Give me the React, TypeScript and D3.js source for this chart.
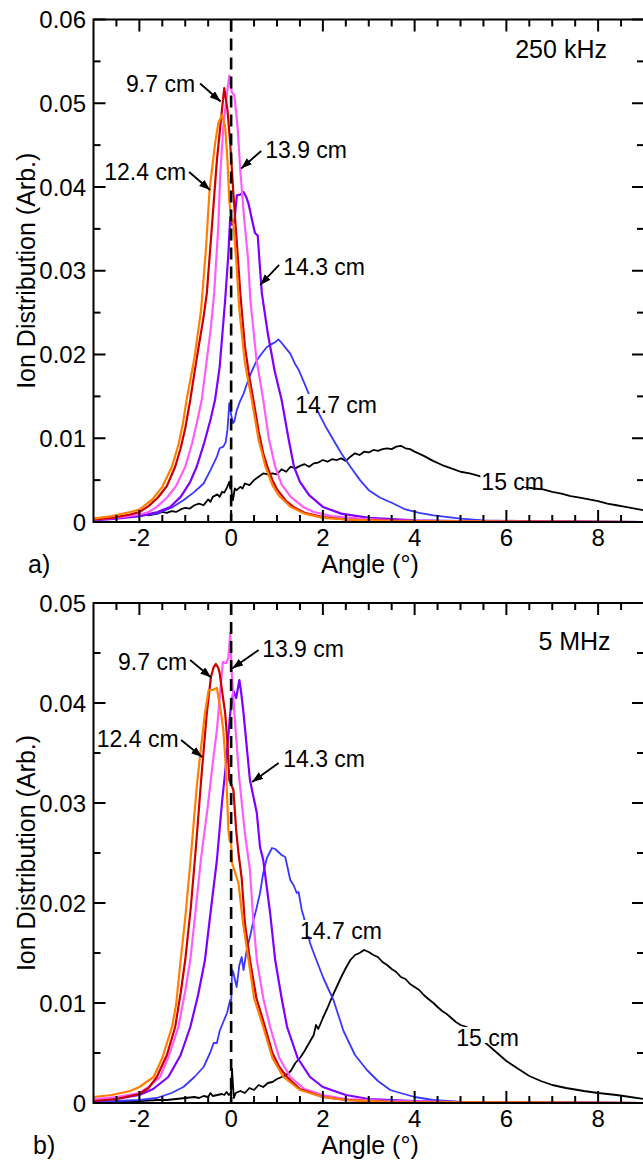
import React from "react";
import * as d3 from "d3";

type P = [number, number];

// ---------- 250 kHz (panel a) ----------
const red250: P[] = [[-3,0.0003],[-2.6,0.0005],[-2.2,0.0009],[-2.0,0.0012],[-1.8,0.0019],[-1.6,0.0029],[-1.4,0.0043],[-1.22,0.0066],[-1.1,0.0088],[-1.0,0.0112],[-0.89,0.0146],[-0.8,0.0178],[-0.7,0.0212],[-0.6,0.0245],[-0.53,0.0273],[-0.42,0.0352],[-0.31,0.0432],[-0.2,0.0492],[-0.15,0.0518],[-0.08,0.0492],[-0.02,0.0452],[0.05,0.0392],[0.125,0.0333],[0.2,0.0273],[0.3,0.021],[0.4,0.0172],[0.485,0.0146],[0.6,0.0108],[0.7,0.0082],[0.79,0.0066],[0.9,0.005],[1.0,0.0039],[1.2,0.0025],[1.36,0.0018],[1.6,0.0011],[2.0,0.0006],[2.5,0.0003],[3,0.0002],[4,0.0001],[5,0.00005],[9,0]];
const orange250: P[] = [[-3,0.0004],[-2.6,0.0007],[-2.2,0.0012],[-2.0,0.0015],[-1.92,0.0018],[-1.7,0.0028],[-1.5,0.0042],[-1.29,0.0066],[-1.15,0.0092],[-1.05,0.0118],[-0.97,0.0146],[-0.8,0.0196],[-0.655,0.0253],[-0.55,0.0325],[-0.47,0.0396],[-0.35,0.0452],[-0.28,0.0476],[-0.2,0.0486],[-0.13,0.0472],[-0.08,0.0432],[-0.04,0.0384],[0.0,0.0362],[0.05,0.0356],[0.11,0.0313],[0.18,0.0253],[0.3,0.019],[0.45,0.0146],[0.6,0.0098],[0.75,0.0066],[0.9,0.0044],[1.05,0.0031],[1.3,0.0018],[1.6,0.001],[2.0,0.0005],[2.5,0.0003],[3.5,0.0001],[9,0]];
const magenta250: P[] = [[-3,0.0003],[-2.5,0.0005],[-2.0,0.0009],[-1.8,0.0012],[-1.62,0.0018],[-1.4,0.0029],[-1.2,0.0043],[-1.0,0.0066],[-0.85,0.0094],[-0.75,0.0118],[-0.64,0.0146],[-0.55,0.0185],[-0.45,0.0228],[-0.37,0.0273],[-0.28,0.0352],[-0.24,0.0412],[-0.17,0.0472],[-0.09,0.0512],[-0.04,0.0533],[0.015,0.0513],[0.07,0.051],[0.14,0.0472],[0.2,0.042],[0.28,0.0365],[0.37,0.0313],[0.42,0.0265],[0.55,0.0195],[0.7,0.0146],[0.82,0.01],[0.96,0.0066],[1.1,0.0045],[1.3,0.003],[1.57,0.0018],[1.8,0.0012],[2.2,0.0007],[2.8,0.0004],[3.5,0.0002],[4.5,0.0001],[9,0]];
const purple250: P[] = [[-3,0.0002],[-2.5,0.0004],[-2,0.0007],[-1.6,0.0012],[-1.33,0.0018],[-1.1,0.003],[-0.9,0.0047],[-0.75,0.0066],[-0.6,0.0092],[-0.45,0.0122],[-0.35,0.0146],[-0.25,0.0185],[-0.13,0.0265],[-0.06,0.032],[-0.02,0.0364],[0.02,0.0355],[0.07,0.0358],[0.125,0.039],[0.2,0.0391],[0.27,0.0394],[0.33,0.0388],[0.38,0.038],[0.45,0.0362],[0.52,0.0345],[0.58,0.0342],[0.62,0.031],[0.67,0.0273],[0.8,0.0225],[0.95,0.018],[1.1,0.0146],[1.25,0.01],[1.37,0.0066],[1.5,0.0048],[1.7,0.0032],[2.0,0.0018],[2.4,0.001],[3.0,0.0005],[4,0.0002],[5,0.0001],[9,0]];
const blue250: P[] = [[-3,0.0003],[-2.5,0.0005],[-2.0,0.0007],[-1.62,0.001],[-1.3,0.0017],[-1.04,0.0026],[-0.8,0.0036],[-0.6,0.0046],[-0.45,0.0062],[-0.31,0.0078],[-0.25,0.0088],[-0.17,0.009],[-0.12,0.0095],[-0.08,0.011],[-0.04,0.0142],[0.0,0.0128],[0.04,0.0118],[0.07,0.012],[0.12,0.0133],[0.2,0.0145],[0.27,0.0153],[0.35,0.0166],[0.45,0.018],[0.56,0.0193],[0.65,0.02],[0.78,0.0209],[0.9,0.0213],[0.97,0.0215],[1.03,0.0218],[1.1,0.0214],[1.2,0.0207],[1.29,0.0201],[1.4,0.0188],[1.47,0.0182],[1.57,0.0169],[1.7,0.0152],[1.87,0.0134],[2.05,0.0115],[2.23,0.0098],[2.4,0.0082],[2.6,0.0066],[2.81,0.005],[3.0,0.0038],[3.25,0.0029],[3.5,0.0023],[3.8,0.0015],[4.1,0.0011],[4.41,0.0008],[5.0,0.0004],[5.5,0.0002],[6.5,0.0001],[9,0]];
const black250: P[] = [[-3,0.0004],[-2.8,0.0005],[-2.6,0.0005],[-2.4,0.0006],[-2.2,0.0007],[-2.0,0.0008],[-1.9,0.0009],[-1.8,0.0008],[-1.6,0.001],[-1.5,0.0012],[-1.4,0.0011],[-1.3,0.0013],[-1.2,0.0012],[-1.1,0.0015],[-1.0,0.0017],[-0.9,0.0016],[-0.8,0.002],[-0.7,0.0022],[-0.6,0.002],[-0.5,0.0027],[-0.45,0.0024],[-0.4,0.003],[-0.3,0.0033],[-0.25,0.003],[-0.2,0.0036],[-0.15,0.0035],[-0.1,0.004],[-0.04,0.0048],[-0.02,0.004],[0.0,0.0045],[0.02,0.003],[0.04,0.0026],[0.08,0.004],[0.12,0.0038],[0.2,0.0042],[0.25,0.004],[0.3,0.0046],[0.4,0.0044],[0.5,0.005],[0.6,0.0054],[0.7,0.0058],[0.8,0.0057],[0.9,0.0058],[1.0,0.0057],[1.1,0.0063],[1.2,0.006],[1.3,0.0066],[1.4,0.0064],[1.5,0.0067],[1.6,0.0069],[1.7,0.0066],[1.8,0.007],[1.9,0.0071],[2.0,0.0074],[2.1,0.0072],[2.2,0.0075],[2.3,0.0074],[2.4,0.0076],[2.5,0.0073],[2.6,0.0078],[2.7,0.0082],[2.8,0.008],[2.9,0.0084],[3.0,0.0083],[3.1,0.0086],[3.2,0.0085],[3.3,0.0087],[3.4,0.0088],[3.5,0.0087],[3.6,0.009],[3.7,0.0091],[3.8,0.0088],[3.9,0.0087],[4.0,0.0084],[4.2,0.0079],[4.4,0.0073],[4.6,0.0068],[4.8,0.0064],[5.0,0.006],[5.2,0.0058],[5.4,0.0055],[5.6,0.0051],[5.8,0.0049],[6.0,0.0046],[6.2,0.0044],[6.4,0.0042],[6.6,0.004],[6.8,0.0039],[7.0,0.0036],[7.2,0.0034],[7.4,0.0031],[7.6,0.0029],[7.8,0.0027],[8.0,0.0025],[8.2,0.0022],[8.4,0.002],[8.6,0.0018],[8.8,0.0016],[9.0,0.0014]];

// ---------- 5 MHz (panel b) ----------
const red5: P[] = [[-3,0.0002],[-2.5,0.0004],[-2.0,0.0009],[-1.8,0.0015],[-1.62,0.0026],[-1.4,0.0048],[-1.22,0.0076],[-1.1,0.011],[-1.0,0.0143],[-0.88,0.0195],[-0.76,0.026],[-0.65,0.0325],[-0.53,0.039],[-0.44,0.0426],[-0.38,0.0436],[-0.33,0.0439],[-0.28,0.0435],[-0.25,0.043],[-0.2,0.0413],[-0.13,0.039],[-0.08,0.036],[-0.04,0.0323],[0.05,0.0313],[0.11,0.0273],[0.16,0.025],[0.23,0.0225],[0.3,0.018],[0.41,0.0143],[0.55,0.0105],[0.74,0.0076],[0.9,0.005],[1.05,0.0036],[1.22,0.0026],[1.5,0.0014],[2.0,0.0006],[2.5,0.0003],[3.5,0.0001],[9,0]];
const orange5: P[] = [[-3,0.0006],[-2.6,0.0008],[-2.2,0.0012],[-2.0,0.0016],[-1.69,0.0026],[-1.5,0.0045],[-1.29,0.0076],[-1.2,0.0098],[-1.1,0.0143],[-1.0,0.0185],[-0.89,0.024],[-0.75,0.0316],[-0.68,0.0346],[-0.57,0.039],[-0.49,0.0413],[-0.4,0.0413],[-0.31,0.0415],[-0.22,0.039],[-0.17,0.0373],[-0.11,0.0333],[-0.06,0.0273],[-0.03,0.0262],[-0.01,0.0268],[0.02,0.024],[0.16,0.022],[0.26,0.018],[0.38,0.0143],[0.5,0.0105],[0.7,0.0076],[0.9,0.0045],[1.14,0.0026],[1.5,0.0013],[2.0,0.0006],[2.5,0.0003],[3.5,0.0001],[9,0]];
const magenta5: P[] = [[-3,0.0004],[-2.5,0.0006],[-2.0,0.001],[-1.8,0.0016],[-1.55,0.0026],[-1.35,0.0048],[-1.15,0.0076],[-1.0,0.0112],[-0.89,0.0143],[-0.78,0.019],[-0.66,0.0243],[-0.5,0.03],[-0.4,0.034],[-0.31,0.0373],[-0.24,0.041],[-0.18,0.0441],[-0.14,0.044],[-0.11,0.044],[-0.06,0.0445],[-0.02,0.047],[0.01,0.0433],[0.07,0.039],[0.18,0.0323],[0.3,0.027],[0.41,0.0233],[0.48,0.0185],[0.56,0.0143],[0.7,0.0105],[0.85,0.0076],[1.05,0.0045],[1.29,0.0026],[1.6,0.0014],[2.0,0.0008],[2.5,0.0004],[3.5,0.0002],[5,0.0001],[9,0]];
const purple5: P[] = [[-3,0.0002],[-2.5,0.0004],[-2.0,0.0008],[-1.7,0.0014],[-1.37,0.0026],[-1.1,0.0048],[-0.89,0.0076],[-0.72,0.0108],[-0.57,0.0143],[-0.45,0.019],[-0.31,0.0243],[-0.2,0.03],[-0.11,0.034],[-0.02,0.039],[0.05,0.0412],[0.11,0.0405],[0.18,0.0423],[0.22,0.041],[0.27,0.039],[0.41,0.0323],[0.56,0.029],[0.63,0.0256],[0.7,0.0243],[0.85,0.019],[0.96,0.0143],[1.1,0.0105],[1.22,0.0076],[1.45,0.0045],[1.72,0.0026],[2.0,0.0016],[2.5,0.0008],[3.0,0.0004],[4,0.0002],[5,0.0001],[9,0]];
const blue5: P[] = [[-3,0.0001],[-2.5,0.0002],[-2.0,0.0003],[-1.62,0.0005],[-1.3,0.001],[-1.04,0.0016],[-0.8,0.0026],[-0.6,0.0036],[-0.46,0.005],[-0.38,0.006],[-0.31,0.006],[-0.25,0.0072],[-0.18,0.008],[-0.09,0.009],[-0.02,0.0103],[0.0,0.0098],[0.02,0.0133],[0.05,0.013],[0.09,0.0122],[0.12,0.0116],[0.18,0.0138],[0.23,0.0146],[0.27,0.0133],[0.34,0.0153],[0.42,0.0168],[0.49,0.0183],[0.56,0.0196],[0.63,0.021],[0.7,0.023],[0.78,0.0245],[0.89,0.0255],[0.96,0.0254],[1.03,0.0251],[1.1,0.0248],[1.18,0.0246],[1.29,0.0223],[1.36,0.0218],[1.43,0.021],[1.47,0.0211],[1.54,0.0193],[1.62,0.018],[1.72,0.016],[1.8,0.015],[2.01,0.0125],[2.23,0.0103],[2.45,0.0072],[2.7,0.0048],[2.96,0.0033],[3.2,0.0022],[3.47,0.0013],[3.69,0.001],[4.0,0.0006],[4.41,0.0003],[5,0.0001],[6,0.00005],[9,0]];
const black5: P[] = [[-3,0.0001],[-2.5,0.0001],[-2.0,0.0002],[-1.6,0.0003],[-1.4,0.0003],[-1.2,0.0004],[-1.0,0.0005],[-0.8,0.0006],[-0.7,0.0005],[-0.6,0.0007],[-0.5,0.0006],[-0.45,0.001],[-0.4,0.0007],[-0.3,0.0008],[-0.2,0.0009],[-0.15,0.0008],[-0.1,0.0011],[-0.05,0.0008],[-0.02,0.0009],[0.0,0.0012],[0.02,0.0034],[0.04,0.0018],[0.06,0.0005],[0.1,0.001],[0.2,0.0012],[0.3,0.001],[0.4,0.0015],[0.5,0.0013],[0.6,0.0018],[0.7,0.0016],[0.8,0.002],[0.9,0.0021],[1.0,0.0024],[1.1,0.0026],[1.2,0.0028],[1.3,0.0032],[1.4,0.004],[1.5,0.0045],[1.6,0.0052],[1.7,0.006],[1.8,0.0068],[1.85,0.0078],[1.9,0.0074],[2.0,0.0085],[2.1,0.0095],[2.2,0.0106],[2.3,0.0116],[2.4,0.0126],[2.5,0.0135],[2.6,0.0143],[2.7,0.0148],[2.8,0.015],[2.9,0.0153],[3.0,0.0151],[3.1,0.0148],[3.2,0.0146],[3.3,0.0141],[3.4,0.0138],[3.5,0.0134],[3.6,0.0131],[3.7,0.0126],[3.8,0.0124],[3.9,0.0119],[4.0,0.0116],[4.1,0.0113],[4.2,0.0108],[4.3,0.0104],[4.41,0.01],[4.5,0.0096],[4.6,0.0092],[4.7,0.0089],[4.8,0.0085],[4.9,0.0081],[5.0,0.0078],[5.14,0.0076],[5.3,0.0068],[5.5,0.0062],[5.65,0.0056],[5.8,0.005],[6.0,0.0042],[6.23,0.0035],[6.5,0.0027],[6.75,0.0022],[7.0,0.0018],[7.3,0.0015],[7.69,0.0012],[8.0,0.001],[8.4,0.0008],[8.7,0.0006],[9.0,0.0004]];

const seriesColors = ["#000000", "#3838ff", "#7f00ff", "#ff5cff", "#cc0000", "#ff7f00"];
const seriesWidths = [1.8, 1.8, 2.2, 2.2, 2.2, 2.2];
const xTickLabels = [-2, 0, 2, 4, 6, 8];
const xDomain: [number, number] = [-3, 9];

type Ann = { text: string; a: number; v: number; anchor: "start" | "end"; arrow?: [number, number, number, number]; box?: boolean };

const annTop: Ann[] = [
  { text: "9.7 cm", a: -0.785, v: 0.05134, anchor: "end", arrow: [-0.676, 0.05236, -0.229, 0.05021] },
  { text: "12.4 cm", a: -0.982, v: 0.04084, anchor: "end", arrow: [-0.916, 0.04179, -0.458, 0.03964] },
  { text: "13.9 cm", a: 0.742, v: 0.04346, anchor: "start", arrow: [0.655, 0.0443, 0.218, 0.04221] },
  { text: "14.3 cm", a: 1.135, v: 0.02949, anchor: "start", arrow: [1.047, 0.03069, 0.633, 0.0283] },
  { text: "14.7 cm", a: 1.396, v: 0.01301, anchor: "start", box: true },
  { text: "15 cm", a: 5.455, v: 0.00382, anchor: "start", box: true },
];
const annBottom: Ann[] = [
  { text: "9.7 cm", a: -0.96, v: 0.0433, anchor: "end", arrow: [-0.894, 0.0443, -0.436, 0.04255] },
  { text: "12.4 cm", a: -1.145, v: 0.0356, anchor: "end", arrow: [-1.091, 0.0363, -0.633, 0.0346] },
  { text: "13.9 cm", a: 0.676, v: 0.0446, anchor: "start", arrow: [0.6, 0.0453, 0.022, 0.04345] },
  { text: "14.3 cm", a: 1.135, v: 0.0336, anchor: "start", arrow: [1.036, 0.034, 0.458, 0.0321] },
  { text: "14.7 cm", a: 1.502, v: 0.0164, anchor: "start", box: true },
  { text: "15 cm", a: 4.909, v: 0.0057, anchor: "start", box: true },
];

const FONT = "'Liberation Sans', Arial, sans-serif";

type PanelProps = {
  top: number; bottom: number; yMax: number; series: P[][]; ann: Ann[];
  title: string; titlePos: [number, number]; letter: string; letterX: number; id: string;
};

function Panel({ top, bottom, yMax, series, ann, title, titlePos, letter, letterX, id }: PanelProps) {
  const left = 93.5, right = 644;
  const x = d3.scaleLinear().domain(xDomain).range([left, right]);
  const y = d3.scaleLinear().domain([0, yMax]).range([bottom, top]);
  const line = d3.line<P>().x(d => x(d[0])).y(d => y(d[1]));
  const xMinor = d3.range(-2.5, 9, 0.5);
  const yTicks = d3.range(0, yMax + 1e-9, 0.005);
  const clipId = "clip" + id;
  const fmt = (v: number) => (v === 0 ? "0" : v.toFixed(2));
  return (
    <g>
      <defs>
        <clipPath id={clipId}><rect x={left} y={top} width={right - left} height={bottom - top} /></clipPath>
      </defs>
      <g clipPath={`url(#${clipId})`}>
        {series.map((s, i) => (
          <path key={i} d={line(s) || ""} fill="none" stroke={seriesColors[i]} strokeWidth={seriesWidths[i]} strokeLinejoin="round" />
        ))}
      </g>
      <line x1={x(0)} x2={x(0)} y1={top} y2={bottom} stroke="#000" strokeWidth={2.6} strokeDasharray="12,7" />
      <rect x={left} y={top} width={right - left} height={bottom - top} fill="none" stroke="#000" strokeWidth={2} />
      {xMinor.map(v => {
        const major = Math.abs(Math.round(v) - v) < 1e-6 && Math.round(v) % 2 === 0;
        const len = major ? 12 : 7;
        return (
          <g key={"x" + v}>
            <line x1={x(v)} x2={x(v)} y1={bottom} y2={bottom - len} stroke="#000" strokeWidth={2} />
            <line x1={x(v)} x2={x(v)} y1={top} y2={top + len} stroke="#000" strokeWidth={2} />
          </g>
        );
      })}
      {yTicks.map(v => {
        const major = Math.abs(Math.round(v * 100) - v * 100) < 1e-6;
        const len = major ? 12 : 7;
        return (
          <g key={"y" + v}>
            <line x1={left} x2={left + len} y1={y(v)} y2={y(v)} stroke="#000" strokeWidth={2} />
            <line x1={right} x2={right - len} y1={y(v)} y2={y(v)} stroke="#000" strokeWidth={2} />
            {major && (
              <text x={86} y={y(v) + 8.5} textAnchor="end" fontSize={24} fontFamily={FONT}>{fmt(v)}</text>
            )}
          </g>
        );
      })}
      {xTickLabels.map(v => (
        <text key={"xl" + v} x={x(v)} y={bottom + 24} textAnchor="middle" fontSize={24} fontFamily={FONT}>{v}</text>
      ))}
      <text x={370} y={bottom + 51} textAnchor="middle" fontSize={25} fontFamily={FONT}>Angle (°)</text>
      <text x={letterX} y={bottom + 51} fontSize={25} fontFamily={FONT}>{letter}</text>
      <text transform={`translate(35,${(top + bottom) / 2}) rotate(-90)`} textAnchor="middle" fontSize={25} fontFamily={FONT}>Ion Distribution (Arb.)</text>
      <text x={x(titlePos[0])} y={y(titlePos[1])} fontSize={25} fontFamily={FONT}>{title}</text>
      {ann.map((an, i) => {
        const tx = x(an.a), ty = y(an.v);
        const w = an.text.length * 12.2;
        return (
          <g key={"a" + i}>
            {an.box && <rect x={tx - 1} y={ty - 19} width={w} height={16} fill="#fff" />}
            <text x={tx} y={ty} textAnchor={an.anchor} fontSize={23} fontFamily={FONT}>{an.text}</text>
            {an.arrow && (
              <line x1={x(an.arrow[0])} y1={y(an.arrow[1])} x2={x(an.arrow[2])} y2={y(an.arrow[3])} stroke="#000" strokeWidth={1.8} markerEnd="url(#arrowhead)" />
            )}
          </g>
        );
      })}
    </g>
  );
}

export default function App() {
  return (
    <svg width={643} height={1162} style={{ position: "absolute", left: 0, top: 0, background: "#fff" }}>
      <defs>
        <marker id="arrowhead" markerUnits="userSpaceOnUse" markerWidth={12} markerHeight={10} refX={11} refY={4} orient="auto">
          <path d="M0,0 L11,4 L0,8 Z" fill="#000" />
        </marker>
      </defs>
      <rect x={0} y={0} width={643} height={1162} fill="#fff" />
      <Panel id="a" top={19.5} bottom={522} yMax={0.06}
        series={[black250, blue250, purple250, magenta250, red250, orange250]}
        ann={annTop} title="250 kHz" titlePos={[6.193, 0.0554]} letter="a)" letterX={28} />
      <Panel id="b" top={603} bottom={1103} yMax={0.05}
        series={[black5, blue5, purple5, magenta5, red5, orange5]}
        ann={annBottom} title="5 MHz" titlePos={[6.698, 0.0453]} letter="b)" letterX={33} />
    </svg>
  );
}
